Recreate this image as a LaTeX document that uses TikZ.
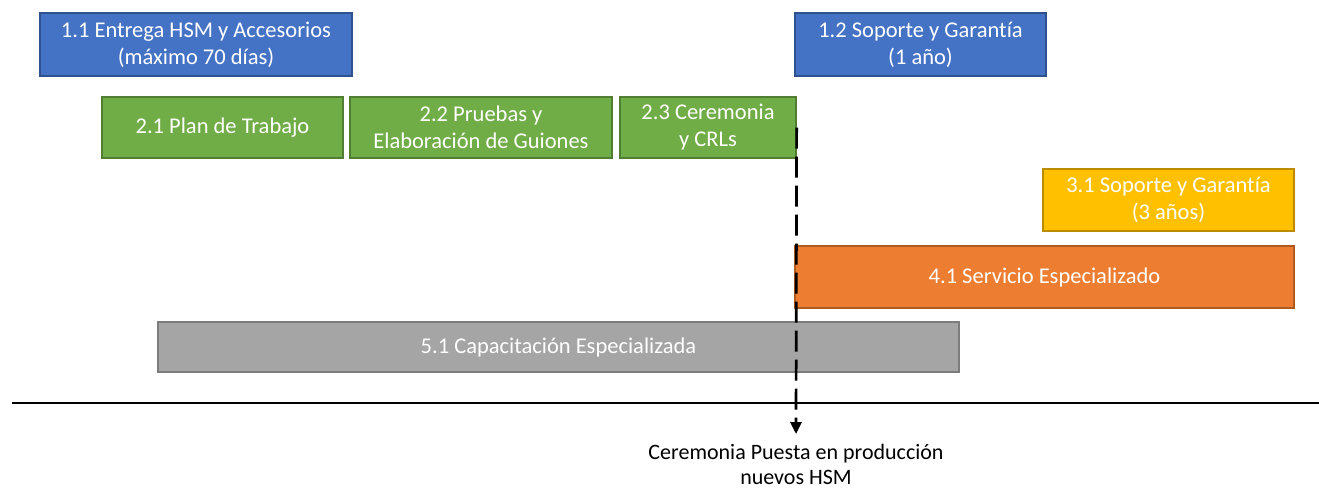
\documentclass[tikz,border=0pt]{standalone}
\usepackage{fontspec}
\setmainfont{Carlito}[Ligatures=NoCommon]
\usepackage{tikz}
\usetikzlibrary{arrows.meta,positioning,calc}

\definecolor{fBlue}{HTML}{4472C4}
\definecolor{dBlue}{HTML}{2F528F}
\definecolor{fGreen}{HTML}{70AD47}
\definecolor{dGreen}{HTML}{507E32}
\definecolor{fYellow}{HTML}{FFC000}
\definecolor{dYellow}{HTML}{BC8C00}
\definecolor{fOrange}{HTML}{ED7D31}
\definecolor{dOrange}{HTML}{AE5A21}
\definecolor{fGray}{HTML}{A5A5A5}
\definecolor{dGray}{HTML}{7C7C7C}

\begin{document}
\begin{tikzpicture}[x=1pt,y=-1pt,
    task/.style={rectangle, inner sep=0pt, line width=1.3pt, text=white,
                 align=center, font=\fontsize{22.5}{27}\selectfont},
    blueTask/.style={task, fill=fBlue, draw=dBlue},
    greenTask/.style={task, fill=fGreen, draw=dGreen},
    yellowTask/.style={task, fill=fYellow, draw=dYellow},
    orangeTask/.style={task, fill=fOrange, draw=dOrange},
    grayTask/.style={task, fill=fGray, draw=dGray}]
           \useasboundingbox (0,0) rectangle (1319,488);
           \node[blueTask, minimum width=312pt, minimum height=63pt] (t11) at (196,44.5) {1.1 Entrega HSM y Accesorios\\(máximo 70 días)};
           \node[blueTask, minimum width=251pt, minimum height=63pt] (t12) at (920.5,44.5) {1.2 Soporte y Garantía\\(1 año)};
           \node[greenTask, minimum width=241pt, minimum height=61pt] (t21) at (222.5,127.5) {2.1 Plan de Trabajo};
           \node[greenTask, minimum width=262pt, minimum height=61pt] (t22) at (481,127.5) {2.2 Pruebas y\\Elaboración de Guiones};
           \node[greenTask, minimum width=176pt, minimum height=61pt] (t23) at (708,127.5) {2.3 Ceremonia\\y CRLs};
           \node[yellowTask, minimum width=251pt, minimum height=62pt] (t31) at (1168.5,200) {3.1 Soporte y Garantía\\(3 años)};
           \node[orangeTask, minimum width=499pt, minimum height=62pt] (t41) at (1044.5,277) {4.1 Servicio Especializado};
           \node[grayTask, minimum width=801pt, minimum height=50pt] (t51) at (558.5,347) {5.1 Capacitación Especializada};
           % linea de tiempo
           \coordinate (tl_a) at (12,403);
           \coordinate (tl_b) at (1319,403);
           \draw[line width=2pt] (tl_a) -- (tl_b);
           % hito
           \coordinate (hito) at (796,434);
           \draw[line width=2.7pt, dash pattern=on 21pt off 8pt, -{Triangle[width=11pt,length=12pt]}]
            (t23.east) -- (hito);
           \node[align=center, font=\fontsize{22}{25}\selectfont, below=7pt of hito] (hito_txt) {Ceremonia Puesta en producción\\nuevos HSM};
        \end{tikzpicture}
\end{document}
